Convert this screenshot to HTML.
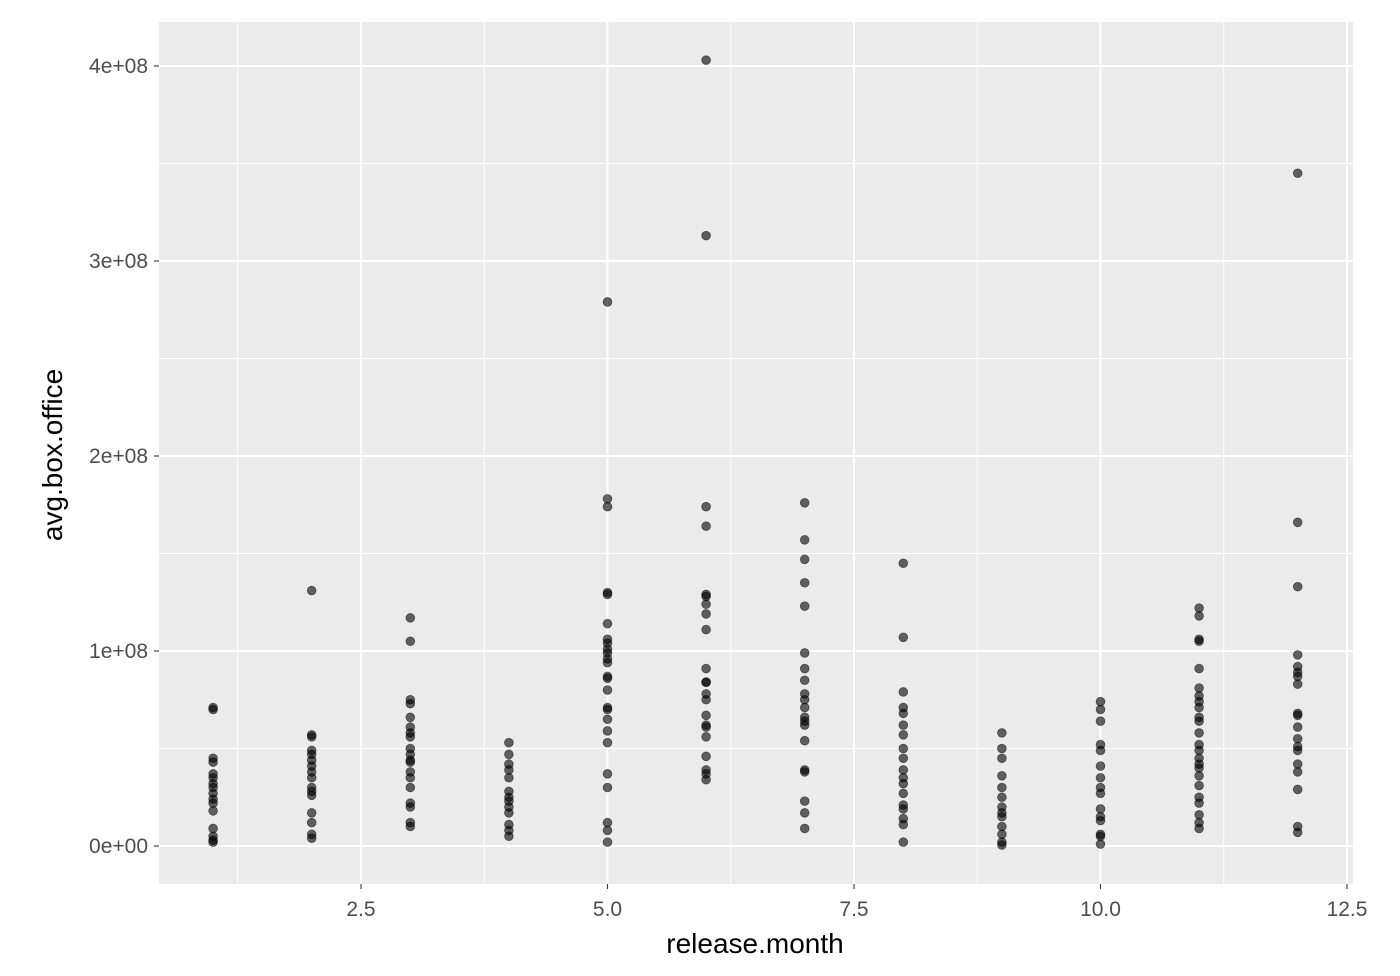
<!DOCTYPE html>
<html><head><meta charset="utf-8"><style>
body{margin:0;background:#fff;}
svg{display:block;font-family:"Liberation Sans",Arial,sans-serif;}
</style></head><body>
<svg id="chart" width="1400" height="976" viewBox="0 0 1400 976">
<rect x="159" y="22" width="1194" height="862" fill="#ebebeb"/>
<g id="grid"></g>
<g id="points"></g>
<g id="axes"></g>
<text x="755" y="953" text-anchor="middle" font-size="28" fill="#000">release.month</text>
<text transform="translate(62,455) rotate(-90)" text-anchor="middle" font-size="28" fill="#000">avg.box.office</text>
</svg>
<script>
const months = [1,2,3,4,5,6,7,8,9,10,11,12];
const values = [
 [71,70,45,43,37,35,32,30,27,24,22,18,9,5,3,2],
 [131,57,56,49,47,44,41,38,35,30,28,26,17,12,6,4],
 [117,105,75,73,66,61,58,56,50,47,44,43,38,35,30,22,20,12,10],
 [53,47,42,39,35,28,25,23,20,17,11,8,5],
 [279,178,174,130,129,114,106,104,101,99,96,94,87,86,80,71,70,65,59,53,37,30,12,8,2],
 [403,313,174,164,129,128,124,119,111,91,84,84,78,75,67,62,61,56,46,39,37,34],
 [176,157,147,135,123,99,91,85,78,75,71,66,64,62,54,39,38,23,17,9],
 [145,107,79,71,68,62,57,50,45,39,35,32,27,21,19,14,11,2],
 [58,50,45,36,30,25,20,17,15,10,6,2,0.5],
 [74,70,64,52,49,41,35,30,27,19,15,13,6,5,1],
 [122,118,106,105,91,81,77,74,71,66,64,58,52,49,45,42,40,36,31,25,22,16,12,9],
 [345,166,133,98,92,89,87,83,68,67,61,55,51,49,42,38,29,10,7]
];
const xTicks = [2.5,5.0,7.5,10.0,12.5];
const xTickLabels = ["2.5","5.0","7.5","10.0","12.5"];
const yTicks = [0,100,200,300,400];
const yTickLabels = ["0e+00","1e+08","2e+08","3e+08","4e+08"];

const X = v => 361 + (v-2.5)*98.6;
const Y = v => 846 - v*1.95;
const NS="http://www.w3.org/2000/svg";
function mk(tag,attrs,parent){const e=document.createElementNS(NS,tag);for(const k in attrs)e.setAttribute(k,attrs[k]);parent.appendChild(e);return e;}
const grid=document.getElementById('grid'), pts=document.getElementById('points'), axes=document.getElementById('axes');
for(let i=0;i<xTicks.length;i++){
  const mv=xTicks[i]-1.25;
  const l=mk('line',{x1:X(mv),x2:X(mv),y1:22,y2:884,stroke:'#fff','stroke-width':0.9},grid);
  
  
}
for(let i=0;i<yTicks.length;i++){
  const mv=yTicks[i]+50;
  const l=mk('line',{x1:159,x2:1353,y1:Y(mv),y2:Y(mv),stroke:'#fff','stroke-width':0.9},grid);
  
  
}
for(let i=0;i<xTicks.length;i++){
  const x=X(xTicks[i]);
  const l=mk('line',{x1:x,x2:x,y1:22,y2:884,stroke:'#fff','stroke-width':1.9},grid);
  
  
  const t=mk('line',{x1:x,x2:x,y1:884,y2:889,stroke:'#333','stroke-width':1.1},axes);
  
  
  const tx=mk('text',{x:x,y:916,'text-anchor':'middle','font-size':21,fill:'#4d4d4d'},axes);
  tx.textContent=xTickLabels[i];
  
  
}
for(let i=0;i<yTicks.length;i++){
  const y=Y(yTicks[i]);
  const l=mk('line',{x1:159,x2:1353,y1:y,y2:y,stroke:'#fff','stroke-width':1.9},grid);
  
  
  const t=mk('line',{x1:154,x2:159,y1:y,y2:y,stroke:'#333','stroke-width':1.1},axes);
  
  
  const tx=mk('text',{x:148,y:y+7,'text-anchor':'end','font-size':21,fill:'#4d4d4d'},axes);
  tx.textContent=yTickLabels[i];
  
  
}
for(let m=0;m<months.length;m++){
  for(const v of values[m]){
    const c=mk('circle',{cx:X(months[m]),cy:Y(v),r:4.4,fill:'rgba(0,0,0,0.6)',stroke:'rgba(0,0,0,0.5)','stroke-width':0.8},pts);
    
    
  }
}
</script>
</body></html>
